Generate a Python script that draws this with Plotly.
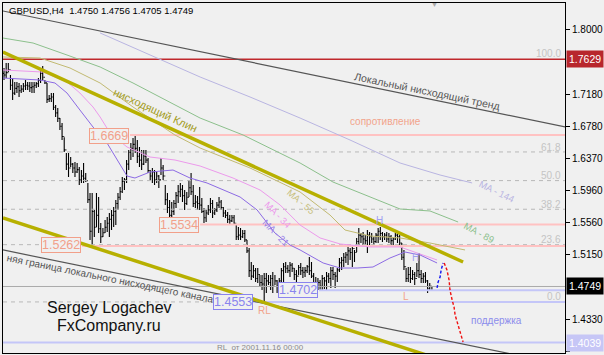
import plotly.graph_objects as go

# ---------------- data (bar index 0..199, H4 bars) ----------------
bar_index = list(range(200))
highs = [
    1.7518, 1.7582, 1.7582, 1.7429, 1.7391, 1.7341, 1.7341, 1.7328, 1.7303, 1.7328,
    1.7366, 1.7341, 1.7341, 1.7341, 1.7341, 1.7341, 1.7391, 1.7493, 1.7543, 1.7366,
    1.7328, 1.7176, 1.7201, 1.7201, 1.7049, 1.7011, 1.6884, 1.6821, 1.6640, 1.6441,
    1.6441, 1.6390, 1.6314, 1.6327, 1.6314, 1.6263, 1.6225, 1.6314, 1.6187, 1.6061,
    1.5934, 1.5934, 1.5719, 1.5934, 1.5883, 1.5554, 1.5490, 1.5592, 1.5630, 1.5680,
    1.5719, 1.5757, 1.5845, 1.5934, 1.6010, 1.6137, 1.6124, 1.6352, 1.6479, 1.6568,
    1.6631, 1.6669, 1.6606, 1.6517, 1.6479, 1.6479, 1.6479, 1.6378, 1.6225, 1.6251,
    1.6225, 1.6200, 1.6162, 1.6378, 1.6289, 1.6035, 1.5934, 1.5845, 1.5820, 1.5845,
    1.5947, 1.6035, 1.6061, 1.6035, 1.5972, 1.5947, 1.6099, 1.6187, 1.6035, 1.5909,
    1.5896, 1.6010, 1.5871, 1.5744, 1.5719, 1.5782, 1.5871, 1.5845, 1.5744, 1.5820,
    1.5883, 1.5845, 1.5757, 1.5719, 1.5693, 1.5655, 1.5655, 1.5655, 1.5528, 1.5503,
    1.5490, 1.5465, 1.5465, 1.5338, 1.5237, 1.5059, 1.5021, 1.4983, 1.4983, 1.4895,
    1.4895, 1.4920, 1.4920, 1.4895, 1.4895, 1.4933, 1.4895, 1.4831, 1.4857, 1.4983,
    1.5047, 1.5059, 1.5021, 1.5059, 1.5047, 1.4983, 1.4958, 1.5021, 1.5047, 1.4996,
    1.4996, 1.5021, 1.5123, 1.5059, 1.4920, 1.4869, 1.4857, 1.4831, 1.4895, 1.4869,
    1.4933, 1.4920, 1.4996, 1.4996, 1.4933, 1.4983, 1.5110, 1.5123, 1.5174, 1.5186,
    1.5250, 1.5237, 1.5275, 1.5212, 1.5364, 1.5490, 1.5427, 1.5440, 1.5402, 1.5465,
    1.5440, 1.5427, 1.5376, 1.5427, 1.5490, 1.5503, 1.5440, 1.5427, 1.5440, 1.5427,
    1.5402, 1.5376, 1.5427, 1.5427, 1.5402, 1.5300, 1.5212, 1.4983, 1.4996, 1.4996,
    1.4958, 1.4933, 1.5047, 1.5174, 1.4958, 1.4920, 1.4933, 1.4831, 1.4793, 1.4756,
]
lows = [
    1.7366, 1.7391, 1.7467, 1.7239, 1.7113, 1.7176, 1.7201, 1.7151, 1.7201, 1.7214,
    1.7239, 1.7239, 1.7214, 1.7201, 1.7201, 1.7265, 1.7277, 1.7328, 1.7366, 1.7315,
    1.7075, 1.7087, 1.7087, 1.6986, 1.6897, 1.6834, 1.6732, 1.6606, 1.6454, 1.6225,
    1.6137, 1.6263, 1.6187, 1.6137, 1.6187, 1.6035, 1.6061, 1.6061, 1.6073, 1.5807,
    1.5338, 1.5262, 1.5376, 1.5503, 1.5427, 1.5300, 1.5376, 1.5427, 1.5440, 1.5376,
    1.5465, 1.5503, 1.5528, 1.5719, 1.5845, 1.5934, 1.5972, 1.6061, 1.6225, 1.6352,
    1.6390, 1.6441, 1.6314, 1.6263, 1.6225, 1.6289, 1.6314, 1.6187, 1.6099, 1.6061,
    1.6035, 1.6061, 1.5997, 1.6162, 1.6099, 1.5782, 1.5680, 1.5592, 1.5534, 1.5655,
    1.5744, 1.5807, 1.5883, 1.5820, 1.5719, 1.5782, 1.5883, 1.5909, 1.5757, 1.5744,
    1.5719, 1.5719, 1.5680, 1.5554, 1.5566, 1.5655, 1.5680, 1.5617, 1.5655, 1.5693,
    1.5744, 1.5719, 1.5630, 1.5617, 1.5554, 1.5541, 1.5566, 1.5528, 1.5338, 1.5338,
    1.5338, 1.5364, 1.5313, 1.5174, 1.4869, 1.4831, 1.4857, 1.4806, 1.4793, 1.4743,
    1.4705, 1.4553, 1.4667, 1.4768, 1.4705, 1.4667, 1.4768, 1.4667, 1.4705, 1.4743,
    1.4806, 1.4920, 1.4920, 1.4869, 1.4933, 1.4831, 1.4806, 1.4895, 1.4895, 1.4857,
    1.4869, 1.4920, 1.4895, 1.4857, 1.4743, 1.4730, 1.4705, 1.4702, 1.4705, 1.4717,
    1.4705, 1.4793, 1.4730, 1.4831, 1.4730, 1.4806, 1.4933, 1.4958, 1.4996, 1.5047,
    1.5021, 1.5085, 1.4996, 1.5059, 1.5186, 1.5275, 1.5300, 1.5275, 1.5250, 1.5174,
    1.5250, 1.5300, 1.5275, 1.5300, 1.5300, 1.5338, 1.5313, 1.5338, 1.5313, 1.5300,
    1.5250, 1.5250, 1.5338, 1.5300, 1.5275, 1.5085, 1.4958, 1.4806, 1.4806, 1.4793,
    1.4831, 1.4768, 1.4869, 1.4857, 1.4793, 1.4793, 1.4793, 1.4667, 1.4705, 1.4705,
]
closes = [
    1.7430, 1.7460, 1.7500, 1.7300, 1.7200, 1.7260, 1.7280, 1.7230, 1.7250, 1.7290,
    1.7300, 1.7290, 1.7270, 1.7280, 1.7300, 1.7320, 1.7360, 1.7450, 1.7400, 1.7330,
    1.7120, 1.7130, 1.7150, 1.7020, 1.6950, 1.6880, 1.6780, 1.6650, 1.6480, 1.6300,
    1.6250, 1.6300, 1.6250, 1.6200, 1.6230, 1.6100, 1.6150, 1.6120, 1.6090, 1.5850,
    1.5450, 1.5700, 1.5500, 1.5650, 1.5480, 1.5380, 1.5430, 1.5500, 1.5550, 1.5600,
    1.5650, 1.5700, 1.5800, 1.5880, 1.5950, 1.6080, 1.6100, 1.6300, 1.6450, 1.6500,
    1.6550, 1.6500, 1.6400, 1.6350, 1.6300, 1.6400, 1.6350, 1.6220, 1.6150, 1.6200,
    1.6100, 1.6150, 1.6100, 1.6250, 1.6150, 1.5850, 1.5750, 1.5650, 1.5700, 1.5800,
    1.5900, 1.5950, 1.5980, 1.5900, 1.5800, 1.5880, 1.6000, 1.5950, 1.5800, 1.5820,
    1.5800, 1.5780, 1.5700, 1.5620, 1.5680, 1.5720, 1.5800, 1.5680, 1.5720, 1.5780,
    1.5820, 1.5750, 1.5680, 1.5650, 1.5600, 1.5580, 1.5620, 1.5550, 1.5380, 1.5400,
    1.5380, 1.5420, 1.5340, 1.5200, 1.4950, 1.4880, 1.4950, 1.4850, 1.4900, 1.4800,
    1.4780, 1.4850, 1.4820, 1.4800, 1.4850, 1.4750, 1.4820, 1.4750, 1.4820, 1.4950,
    1.5000, 1.4980, 1.4950, 1.5020, 1.4980, 1.4900, 1.4880, 1.4990, 1.4950, 1.4930,
    1.4950, 1.5000, 1.4950, 1.4880, 1.4800, 1.4770, 1.4800, 1.4750, 1.4850, 1.4820,
    1.4880, 1.4850, 1.4950, 1.4900, 1.4880, 1.4960, 1.5050, 1.5080, 1.5120, 1.5150,
    1.5200, 1.5180, 1.5230, 1.5180, 1.5320, 1.5400, 1.5380, 1.5350, 1.5330, 1.5400,
    1.5380, 1.5350, 1.5320, 1.5400, 1.5450, 1.5420, 1.5380, 1.5400, 1.5350, 1.5380,
    1.5330, 1.5350, 1.5400, 1.5380, 1.5300, 1.5120, 1.5000, 1.4850, 1.4900, 1.4850,
    1.4900, 1.4850, 1.4950, 1.4900, 1.4850, 1.4880, 1.4820, 1.4720, 1.4750, 1.4749,
]
first_open = 1.7450
opens = [first_open] + closes[:-1]

# moving averages (bar index, price)
ma144_idx = [44.7, 67.9, 91.2, 114.4, 137.7, 160.9, 184.2, 202.8, 217.7]
ma144_val = [1.7962, 1.7683, 1.7404, 1.7151, 1.6884, 1.6606, 1.6314, 1.6162, 1.6061]
ma89_idx = [-0.5, 13.5, 29.3, 44.7, 60.0, 77.2, 91.2, 111.2, 137.7, 153.0, 184.2, 198.1, 211.2]
ma89_val = [1.7898, 1.7835, 1.7683, 1.7531, 1.7328, 1.7087, 1.6884, 1.6669, 1.6314, 1.6073, 1.5731, 1.5706, 1.5566]
ma55_idx = [-0.5, 16.7, 30.7, 44.7, 60.0, 67.9, 79.5, 91.2, 114.4, 137.7, 151.6, 158.6, 170.2, 184.2, 198.1, 214.4]
ma55_val = [1.7658, 1.7645, 1.7518, 1.7328, 1.7024, 1.6884, 1.6669, 1.6504, 1.6251, 1.5947, 1.5655, 1.5465, 1.5389, 1.5364, 1.5300, 1.5212]
ma34_idx = [-0.5, 18.1, 29.3, 35.3, 41.4, 44.7, 49.3, 57.2, 67.9, 79.5, 91.2, 106.5, 119.1, 128.4, 137.7, 147.0, 156.3, 170.2, 184.2, 193.5, 201.4]
ma34_val = [1.7493, 1.7467, 1.7341, 1.7201, 1.7024, 1.6897, 1.6694, 1.6517, 1.6390, 1.6352, 1.6276, 1.6124, 1.5972, 1.5782, 1.5528, 1.5364, 1.5288, 1.5250, 1.5250, 1.5161, 1.5085]
ma21_idx = [-0.5, 16.7, 23.7, 29.3, 35.3, 41.4, 47.9, 52.6, 57.2, 60.9, 67.9, 78.6, 86.5, 94.4, 101.9, 109.8, 117.7, 122.3, 126.0, 133.0, 137.7, 148.4, 156.3, 164.2, 171.6, 179.5, 186.5, 193.5, 201.4]
ma21_val = [1.7391, 1.7366, 1.7328, 1.7201, 1.6986, 1.6770, 1.6568, 1.6352, 1.6149, 1.6124, 1.6200, 1.6225, 1.6124, 1.6061, 1.5972, 1.5883, 1.5719, 1.5554, 1.5427, 1.5275, 1.5212, 1.5047, 1.4983, 1.4983, 1.4996, 1.5110, 1.5186, 1.5148, 1.5047]

# trend lines (bar index, price)
downtrend_idx = [-0.5, 261.0]
downtrend_val = [1.8241, 1.6770]
channel_low_idx = [-0.5, 261.0]
channel_low_val = [1.5212, 1.3754]
wedge_up_idx = [-0.5, 213.5]
wedge_up_val = [1.7721, 1.5059]
wedge_low_idx = [-0.5, 203.0]
wedge_low_val = [1.5617, 1.3822]

# forecast sketch
fc_up_idx = [201.4, 201.9, 202.8, 203.3, 204.2]
fc_up_val = [1.4730, 1.4806, 1.4869, 1.4958, 1.5047]
fc_down_idx = [204.7, 206.0, 207.0, 207.4, 208.4, 209.3, 209.8, 211.2, 212.1, 213.5]
fc_down_val = [1.5047, 1.4958, 1.4831, 1.4705, 1.4578, 1.4489, 1.4388, 1.4261, 1.4198, 1.4045]

# horizontal levels
resist_levels = [1.6669, 1.5534, 1.5262]
resist_start = [58.6, 91.2, 36.3]
support_levels = [1.4702, 1.4553, 1.4039]
support_start = [146.5, 115.8, -0.5]
level_top = 1.7629
bid_price = 1.4749
fib_labels = ["100.0", "61.8", "50.0", "38.2", "23.6", "0.0"]
fib_prices = [1.7629, 1.6454, 1.6091, 1.5728, 1.5279, 1.4553]

tick_vals = [1.8000, 1.7180, 1.6780, 1.6370, 1.5960, 1.5560, 1.5150, 1.4330, 1.3930]

# ---------------- layout geometry ----------------
W, H = 604, 355
ML, MR, MT, MB = 3, 39, 3, 2
XR = [-0.47, 260.9]
YR = [1.3906, 1.8342]
BG = "#F0F0F0"
FONT = "Liberation Sans, Arial, sans-serif"


def pp(x, y):
    """pixel position -> paper coords (for text placement)"""
    return (x - ML) / (W - ML - MR), (H - MB - y) / (H - MT - MB)


fig = go.Figure()

def line(xs, ys, color, width, dash=None):
    fig.add_trace(go.Scatter(x=xs, y=ys, mode="lines",
                             line=dict(color=color, width=width, dash=dash),
                             hoverinfo="skip", showlegend=False))

# fib dashed levels
for p in fib_prices[1:]:
    line([XR[0], XR[1]], [p, p], "#B8B8B8", 1, "4px,4px")
# bid line
line([XR[0], XR[1]], [bid_price, bid_price], "#ABABAB", 1)
# resistance / support
for p, s in zip(resist_levels, resist_start):
    line([s, XR[1]], [p, p], "#FFC2C2", 2)
for p, s in zip(support_levels, support_start):
    line([s, XR[1]], [p, p], "#C4C6F8", 2)
line([XR[0], XR[1]], [level_top, level_top], "#C0282C", 1.5)

# moving averages
line(ma144_idx, ma144_val, "#B9B5E2", 1)
line(ma89_idx, ma89_val, "#8CC08C", 1)
line(ma55_idx, ma55_val, "#C2BA72", 1)
line(ma34_idx, ma34_val, "#EC9AEC", 1)
line(ma21_idx, ma21_val, "#8C6AE4", 1)

# trend lines
line(downtrend_idx, downtrend_val, "#555555", 1.2)
line(channel_low_idx, channel_low_val, "#555555", 1.2)
line(wedge_up_idx, wedge_up_val, "#B7B000", 3.5)
line(wedge_low_idx, wedge_low_val, "#B7B000", 3.5)

# bars
fig.add_trace(go.Ohlc(x=bar_index, open=opens, high=highs, low=lows, close=closes,
                      increasing=dict(line=dict(color="black", width=1.1)),
                      decreasing=dict(line=dict(color="black", width=1.1)),
                      tickwidth=0.45, hoverinfo="skip", showlegend=False))

# forecast
line(fc_up_idx, fc_up_val, "#1010F0", 1.4, "3px,2px")
line(fc_down_idx, fc_down_val, "#F01010", 1.4, "3px,2px")

ann = []

def text(x, y, s, size, color, angle=0, xanchor="center", yanchor="middle", **kw):
    px_, py_ = pp(x, y)
    ann.append(dict(x=px_, y=py_, xref="paper", yref="paper", text=s, showarrow=False,
                    font=dict(family=FONT, size=size, color=color), textangle=angle,
                    xanchor=xanchor, yanchor=yanchor, **kw))

header = "GBPUSD,H4  %.4f %.4f %.4f %.4f" % (opens[-1], highs[-1], lows[-1], closes[-1])
text(7, 10, header, 9.5, "#000000", xanchor="left")
text(434, 5, "▼", 7, "#A8A8A8")

text(155, 110, "нисходящий Клин", 11, "#A39C1E", angle=24.5)
text(427, 91, "Локальный нисходящий тренд", 10.5, "#555555", angle=11.7)
text(110, 278, "няя граница локального нисходящего канала", 10, "#555555", angle=11.5)
text(385, 121, "сопротивление", 10, "#F2A48C")
text(496, 320, "поддержка", 10, "#8C8CEC")
text(109, 307, "Sergey Logachev", 16, "#111111")
text(109, 325, "FxCompany.ru", 16, "#111111")
text(264, 310, "RL", 10, "#F2A48C")
text(406, 296, "L", 10, "#F2A48C")
text(379, 221, "H", 10, "#A0A0F0")
text(415, 257, "H", 10, "#A0A0F0")
text(215, 347, "RL  от 2001.11.16 00:00", 8, "#8A8A8A", xanchor="left")

for lab, y in zip(fib_labels, [54, 147, 175, 204, 239, 296]):
    text(563, y, lab, 10, "#C4C4C4", xanchor="right")

text(497, 191, "MA - 144", 9.5, "#B9B5E2", angle=26)
text(479, 232, "MA - 89", 9.5, "#8CC08C", angle=28)
text(301, 201, "MA - 55", 9.5, "#C8C07E", angle=40)
text(278, 214, "MA - 34", 9.5, "#EC9AEC", angle=45)
text(276, 232, "MA - 21", 9.5, "#9A82EA", angle=45)

# boxed level labels
def box(x, y, s, color):
    px_, py_ = pp(x, y)
    ann.append(dict(x=px_, y=py_, xref="paper", yref="paper", text=s, showarrow=False,
                    font=dict(family=FONT, size=12.5, color=color),
                    bordercolor=color, borderwidth=1, borderpad=0, bgcolor=BG,
                    xanchor="center", yanchor="middle"))

box(108.5, 136, "%.4f" % resist_levels[0], "#F2A08A")
box(179, 225, "%.4f" % resist_levels[1], "#F2A08A")
box(61, 245, "%.4f" % resist_levels[2], "#F2A08A")
box(298.5, 290, "%.4f" % support_levels[0], "#8A84EE")
box(232.5, 302, "%.4f" % support_levels[1], "#8A84EE")

# price tags on the axis
for p, bgc in [(level_top, "#B8262C"), (bid_price, "#000000"), (support_levels[2], "#C6C6F6")]:
    ann.append(dict(x=1, y=p, xref="paper", yref="y", text="%.4f" % p, showarrow=False,
                    font=dict(family=FONT, size=10.5, color="white"), bgcolor=bgc,
                    borderpad=2, xanchor="left", yanchor="middle", xshift=1))

fig.update_layout(
    width=W, height=H,
    margin=dict(l=ML, r=MR, t=MT, b=MB),
    paper_bgcolor=BG, plot_bgcolor=BG,
    showlegend=False, hovermode=False,
    annotations=ann,
    xaxis=dict(range=XR, showgrid=False, zeroline=False, showticklabels=False, ticks="",
               showline=True, linecolor="black", linewidth=1, mirror=True,
               rangeslider=dict(visible=False)),
    yaxis=dict(range=YR, side="right", showgrid=False, zeroline=False,
               tickvals=tick_vals, ticktext=["%.4f" % v for v in tick_vals],
               ticks="outside", ticklen=4, tickcolor="black",
               tickfont=dict(family=FONT, size=10, color="black"),
               showline=True, linecolor="black", linewidth=1, mirror=True),
)

fig.write_html("out.html", config={"staticPlot": True},
               post_script="document.body.style.margin='0';document.body.style.overflow='hidden';")
